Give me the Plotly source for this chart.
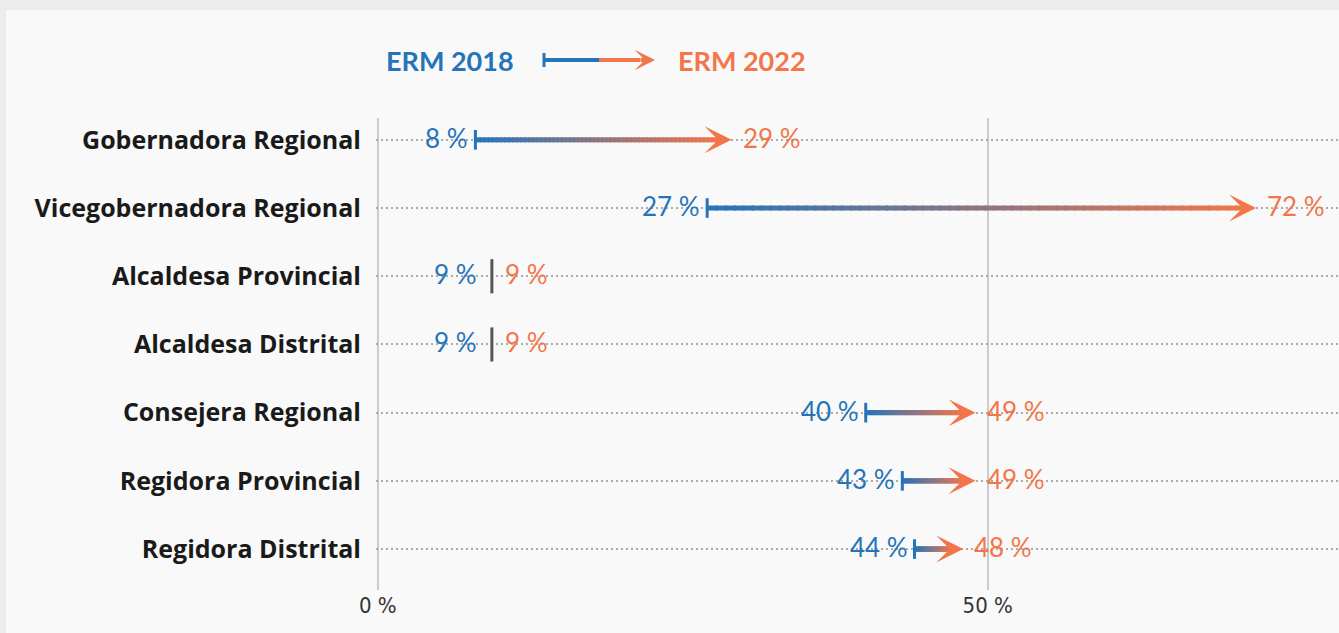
import plotly.graph_objects as go

categories = ["Gobernadora Regional", "Vicegobernadora Regional", "Alcaldesa Provincial",
              "Alcaldesa Distrital", "Consejera Regional", "Regidora Provincial", "Regidora Distrital"]
erm2018 = [8, 27, 9, 9, 40, 43, 44]
erm2022 = [29, 72, 9, 9, 49, 49, 48]
series_names = ["ERM 2018", "ERM 2022"]
x_ticks = [0, 50]
x_ticktext = ["0 %", "50 %"]

BLUE = "#2574ba"
ORANGE = "#f2764a"
BG = "#f9f9f9"
STRIP = "#ececec"

W, H = 1339, 633
ML, MR, MT, MB = 376, 0, 118, 43
PW, PH = W - ML - MR, H - MT - MB
XMIN, XMAX = -0.15, 78.8


def px2x(px):
    return (px - ML) / PW


def py2y(py):
    return (H - MB - py) / PH


def hex2rgb(h):
    h = h.lstrip("#")
    return tuple(int(h[i:i + 2], 16) for i in (0, 2, 4))


def mix(c1, c2, t):
    a, b = hex2rgb(c1), hex2rgb(c2)
    return "rgb(%d,%d,%d)" % tuple(round(a[i] + (b[i] - a[i]) * t) for i in range(3))


fig = go.Figure()
shapes = []
annotations = []
ypos = list(range(len(categories)))
LABEL_FONT = "Lato"

# gradient arrows
N = 60
tick_x, tick_y = [], []
for i, (a, b) in enumerate(zip(erm2018, erm2022)):
    if a != b:
        end = b - 1.0 if b > a else b + 1.0
        for k in range(N):
            t0, t1 = k / N, (k + 1) / N
            x1 = min(a + (end - a) * t1 + 0.15, end)
            shapes.append(dict(type="line", xref="x", yref="y",
                               x0=a + (end - a) * t0, x1=x1,
                               y0=i, y1=i, line=dict(color=mix(BLUE, ORANGE, (t0 + t1) / 2), width=5),
                               layer="above"))
        annotations.append(dict(x=b, y=i, xref="x", yref="y", ax=-14, ay=0, text="",
                                showarrow=True, arrowhead=3, arrowsize=0.9, arrowwidth=5,
                                arrowcolor=ORANGE, standoff=0))
        tick_x.append(a)
        tick_y.append(i)
        lsh, rsh = -5, 9
    else:
        shapes.append(dict(type="line", xref="x", yref="y", x0=a + 0.35, x1=a + 0.35,
                           y0=i - 0.25, y1=i + 0.25, line=dict(color="#555555", width=3),
                           layer="above"))
        lsh, rsh = -9, 15
    annotations.append(dict(x=a, y=i, xref="x", yref="y", text=f"{a} %", showarrow=False,
                            xanchor="right", xshift=lsh, yshift=2,
                            font=dict(family=LABEL_FONT, size=26, color=BLUE)))
    annotations.append(dict(x=b, y=i, xref="x", yref="y", text=f"{b} %", showarrow=False,
                            xanchor="left", xshift=rsh, yshift=2,
                            font=dict(family=LABEL_FONT, size=26, color=ORANGE)))

fig.add_trace(go.Scatter(x=tick_x, y=tick_y, mode="markers", hoverinfo="skip",
                         marker=dict(symbol="line-ns", size=14, color=BLUE,
                                     line=dict(color=BLUE, width=3)),
                         showlegend=False))

# legend
ly = py2y(60)
annotations.append(dict(x=px2x(384), y=ly, xref="paper", yref="paper", text="<b>" + series_names[0] + "</b>",
                        showarrow=False, xanchor="left", yanchor="middle",
                        font=dict(family="Lato", size=27, color=BLUE)))
annotations.append(dict(x=px2x(676), y=ly, xref="paper", yref="paper", text="<b>" + series_names[1] + "</b>",
                        showarrow=False, xanchor="left", yanchor="middle",
                        font=dict(family="Lato", size=27, color=ORANGE)))
shapes.append(dict(type="line", xref="paper", yref="paper", x0=px2x(544), x1=px2x(544),
                   y0=py2y(53), y1=py2y(67), line=dict(color=BLUE, width=3)))
shapes.append(dict(type="line", xref="paper", yref="paper", x0=px2x(544), x1=px2x(599),
                   y0=ly, y1=ly, line=dict(color=BLUE, width=4)))
shapes.append(dict(type="line", xref="paper", yref="paper", x0=px2x(599), x1=px2x(640),
                   y0=ly, y1=ly, line=dict(color=ORANGE, width=4)))
annotations.append(dict(x=px2x(655), y=ly, xref="paper", yref="paper", ax=-16, ay=0, text="",
                        showarrow=True, arrowhead=3, arrowsize=0.85, arrowwidth=4,
                        arrowcolor=ORANGE, standoff=0))

# outer frame strips
shapes.append(dict(type="rect", xref="paper", yref="paper", x0=-1, x1=2, ysizemode="pixel",
                   yanchor=1, y0=MT - 10, y1=MT + 20, fillcolor=STRIP, line=dict(width=0)))
shapes.append(dict(type="rect", xref="paper", yref="paper", y0=-1, y1=2, xsizemode="pixel",
                   xanchor=0, x0=-ML - 5, x1=-ML + 6, fillcolor=STRIP, line=dict(width=0)))

fig.update_layout(
    width=W, height=H, autosize=False,
    margin=dict(l=ML, r=MR, t=MT, b=MB, pad=0),
    paper_bgcolor=BG, plot_bgcolor=BG,
    showlegend=False,
    shapes=shapes, annotations=annotations,
    xaxis=dict(range=[XMIN, XMAX], tickvals=x_ticks, ticktext=x_ticktext, showgrid=True,
               gridcolor="#cccccc", gridwidth=2, zeroline=False, showline=False, ticks="",
               tickfont=dict(family="Liberation Sans Narrow, DejaVu Sans Condensed, sans-serif",
                             size=22, color="#333333"),
               automargin=False, fixedrange=True),
    yaxis=dict(range=[6.6, -0.32], tickvals=ypos, ticktext=categories, showgrid=True,
               gridcolor="#aaaaaa", gridwidth=2, griddash="2px,3px", zeroline=False,
               showline=False, ticks="", ticklabelstandoff=14,
               tickfont=dict(family="Open Sans", size=25, color="#1a1a1a", weight="bold"),
               automargin=False, fixedrange=True),
)

fig.write_html("out.html", config={"displayModeBar": False},
               post_script="document.body.style.margin='0';document.body.style.overflow='hidden';")
